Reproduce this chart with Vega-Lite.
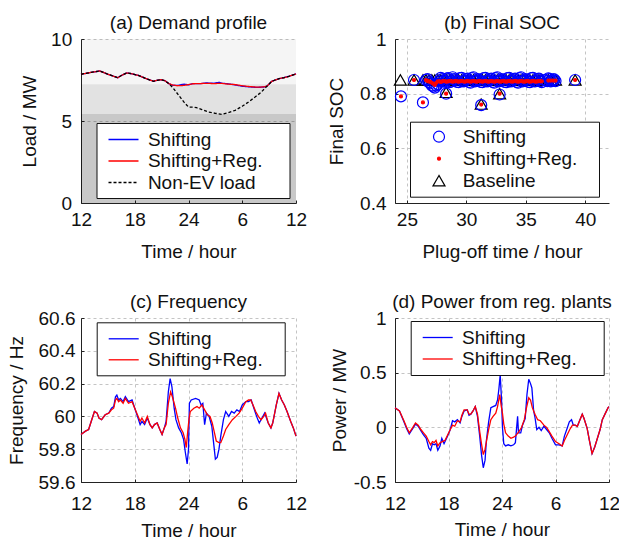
{
"$schema": "https://vega.github.io/schema/vega-lite/v6.json",
"padding": {"left": 6, "top": 14, "right": 0, "bottom": 0},
"background": "white",
"columns": 2,
"spacing": {"row": 115, "column": 99},
"bounds": "flush",
"resolve": {
 "scale": {"color": "independent", "fill": "independent", "stroke": "independent", "shape": "independent", "size": "independent", "strokeDash": "independent"},
 "legend": {"color": "independent", "fill": "independent", "stroke": "independent", "shape": "independent", "size": "independent", "strokeDash": "independent"}
},
"datasets": {
"bands": [{"lo": 7.24, "hi": 10, "zone": "upper"}, {"lo": 5.42, "hi": 7.24, "zone": "middle"}, {"lo": 0, "hi": 5.42, "zone": "lower"}],
"demand": [
{"h":12.0,"load":7.85,"s":"Shifting"},{"h":13.0,"load":7.95,"s":"Shifting"},{"h":14.1,"load":8.05,"s":"Shifting"},{"h":15.0,"load":7.85,"s":"Shifting"},{"h":16.1,"load":7.64,"s":"Shifting"},{"h":16.6,"load":7.8,"s":"Shifting"},{"h":17.1,"load":7.93,"s":"Shifting"},{"h":17.7,"load":7.88,"s":"Shifting"},{"h":18.4,"load":7.78,"s":"Shifting"},{"h":19.2,"load":7.6,"s":"Shifting"},{"h":20.1,"load":7.42,"s":"Shifting"},{"h":20.5,"load":7.48,"s":"Shifting"},{"h":20.95,"load":7.52,"s":"Shifting"},{"h":21.4,"load":7.45,"s":"Shifting"},{"h":21.8,"load":7.28,"s":"Shifting"},{"h":22.2,"load":7.18,"s":"Shifting"},{"h":22.8,"load":7.17,"s":"Shifting"},{"h":23.5,"load":7.25,"s":"Shifting"},{"h":24.0,"load":7.2,"s":"Shifting"},{"h":24.5,"load":7.28,"s":"Shifting"},{"h":25.3,"load":7.28,"s":"Shifting"},{"h":26.0,"load":7.32,"s":"Shifting"},{"h":26.8,"load":7.3,"s":"Shifting"},{"h":27.4,"load":7.36,"s":"Shifting"},{"h":27.8,"load":7.3,"s":"Shifting"},{"h":28.4,"load":7.27,"s":"Shifting"},{"h":29.2,"load":7.2,"s":"Shifting"},{"h":30.0,"load":7.12,"s":"Shifting"},{"h":30.8,"load":7.08,"s":"Shifting"},{"h":31.5,"load":7.05,"s":"Shifting"},{"h":32.1,"load":7.06,"s":"Shifting"},{"h":32.5,"load":7.08,"s":"Shifting"},{"h":32.75,"load":7.12,"s":"Shifting"},{"h":33.3,"load":7.42,"s":"Shifting"},{"h":34.1,"load":7.58,"s":"Shifting"},{"h":34.7,"load":7.65,"s":"Shifting"},{"h":35.2,"load":7.72,"s":"Shifting"},{"h":35.6,"load":7.8,"s":"Shifting"},{"h":36.0,"load":7.87,"s":"Shifting"},
{"h":12.0,"load":7.85,"s":"Shifting+Reg."},{"h":13.0,"load":7.95,"s":"Shifting+Reg."},{"h":14.1,"load":8.05,"s":"Shifting+Reg."},{"h":15.0,"load":7.85,"s":"Shifting+Reg."},{"h":16.1,"load":7.64,"s":"Shifting+Reg."},{"h":16.6,"load":7.8,"s":"Shifting+Reg."},{"h":17.1,"load":7.93,"s":"Shifting+Reg."},{"h":17.7,"load":7.88,"s":"Shifting+Reg."},{"h":18.4,"load":7.78,"s":"Shifting+Reg."},{"h":19.2,"load":7.6,"s":"Shifting+Reg."},{"h":20.1,"load":7.42,"s":"Shifting+Reg."},{"h":20.5,"load":7.48,"s":"Shifting+Reg."},{"h":20.95,"load":7.52,"s":"Shifting+Reg."},{"h":21.4,"load":7.45,"s":"Shifting+Reg."},{"h":21.8,"load":7.28,"s":"Shifting+Reg."},{"h":22.2,"load":7.2,"s":"Shifting+Reg."},{"h":22.8,"load":7.15,"s":"Shifting+Reg."},{"h":23.5,"load":7.17,"s":"Shifting+Reg."},{"h":24.0,"load":7.22,"s":"Shifting+Reg."},{"h":24.5,"load":7.27,"s":"Shifting+Reg."},{"h":25.3,"load":7.28,"s":"Shifting+Reg."},{"h":26.0,"load":7.3,"s":"Shifting+Reg."},{"h":26.8,"load":7.28,"s":"Shifting+Reg."},{"h":27.6,"load":7.3,"s":"Shifting+Reg."},{"h":28.4,"load":7.25,"s":"Shifting+Reg."},{"h":29.2,"load":7.22,"s":"Shifting+Reg."},{"h":30.0,"load":7.15,"s":"Shifting+Reg."},{"h":30.8,"load":7.1,"s":"Shifting+Reg."},{"h":31.5,"load":7.07,"s":"Shifting+Reg."},{"h":32.1,"load":7.07,"s":"Shifting+Reg."},{"h":32.5,"load":7.09,"s":"Shifting+Reg."},{"h":32.75,"load":7.12,"s":"Shifting+Reg."},{"h":33.3,"load":7.42,"s":"Shifting+Reg."},{"h":34.1,"load":7.58,"s":"Shifting+Reg."},{"h":34.7,"load":7.65,"s":"Shifting+Reg."},{"h":35.2,"load":7.72,"s":"Shifting+Reg."},{"h":35.6,"load":7.8,"s":"Shifting+Reg."},{"h":36.0,"load":7.87,"s":"Shifting+Reg."},
{"h":12.0,"load":7.85,"s":"Non-EV load"},{"h":13.0,"load":7.95,"s":"Non-EV load"},{"h":14.1,"load":8.05,"s":"Non-EV load"},{"h":15.0,"load":7.85,"s":"Non-EV load"},{"h":16.1,"load":7.64,"s":"Non-EV load"},{"h":16.6,"load":7.8,"s":"Non-EV load"},{"h":17.1,"load":7.93,"s":"Non-EV load"},{"h":17.7,"load":7.88,"s":"Non-EV load"},{"h":18.4,"load":7.78,"s":"Non-EV load"},{"h":19.2,"load":7.6,"s":"Non-EV load"},{"h":20.1,"load":7.42,"s":"Non-EV load"},{"h":20.5,"load":7.48,"s":"Non-EV load"},{"h":20.95,"load":7.52,"s":"Non-EV load"},{"h":21.4,"load":7.45,"s":"Non-EV load"},{"h":21.8,"load":7.28,"s":"Non-EV load"},{"h":22.3,"load":7.0,"s":"Non-EV load"},{"h":22.9,"load":6.57,"s":"Non-EV load"},{"h":23.5,"load":6.15,"s":"Non-EV load"},{"h":24.0,"load":5.85,"s":"Non-EV load"},{"h":24.5,"load":5.85,"s":"Non-EV load"},{"h":24.9,"load":5.81,"s":"Non-EV load"},{"h":25.5,"load":5.7,"s":"Non-EV load"},{"h":26.2,"load":5.55,"s":"Non-EV load"},{"h":27.0,"load":5.47,"s":"Non-EV load"},{"h":27.7,"load":5.41,"s":"Non-EV load"},{"h":28.4,"load":5.5,"s":"Non-EV load"},{"h":29.2,"load":5.65,"s":"Non-EV load"},{"h":30.0,"load":5.9,"s":"Non-EV load"},{"h":30.7,"load":6.16,"s":"Non-EV load"},{"h":31.4,"load":6.45,"s":"Non-EV load"},{"h":32.0,"load":6.7,"s":"Non-EV load"},{"h":32.75,"load":7.12,"s":"Non-EV load"},{"h":33.3,"load":7.42,"s":"Non-EV load"},{"h":34.1,"load":7.58,"s":"Non-EV load"},{"h":34.7,"load":7.65,"s":"Non-EV load"},{"h":35.2,"load":7.72,"s":"Non-EV load"},{"h":35.6,"load":7.8,"s":"Non-EV load"},{"h":36.0,"load":7.87,"s":"Non-EV load"}
],
"soc": [
{"t":24.45,"soc":0.85,"s":"Baseline"},{"t":25.6,"soc":0.85,"s":"Baseline"},{"t":26.35,"soc":0.85,"s":"Baseline"},{"t":28.3,"soc":0.805,"s":"Baseline"},{"t":31.25,"soc":0.762,"s":"Baseline"},{"t":32.8,"soc":0.8,"s":"Baseline"},{"t":39.15,"soc":0.85,"s":"Baseline"},
{"t":26.6,"soc":0.85,"s":"Baseline"},{"t":26.85,"soc":0.85,"s":"Baseline"},{"t":27.1,"soc":0.85,"s":"Baseline"},{"t":27.35,"soc":0.85,"s":"Baseline"},{"t":27.6,"soc":0.85,"s":"Baseline"},{"t":27.85,"soc":0.85,"s":"Baseline"},{"t":28.1,"soc":0.85,"s":"Baseline"},{"t":28.35,"soc":0.85,"s":"Baseline"},{"t":28.6,"soc":0.85,"s":"Baseline"},{"t":28.85,"soc":0.85,"s":"Baseline"},{"t":29.1,"soc":0.85,"s":"Baseline"},{"t":29.35,"soc":0.85,"s":"Baseline"},{"t":29.6,"soc":0.85,"s":"Baseline"},{"t":29.85,"soc":0.85,"s":"Baseline"},{"t":30.1,"soc":0.85,"s":"Baseline"},{"t":30.35,"soc":0.85,"s":"Baseline"},{"t":30.6,"soc":0.85,"s":"Baseline"},{"t":30.85,"soc":0.85,"s":"Baseline"},{"t":31.1,"soc":0.85,"s":"Baseline"},{"t":31.35,"soc":0.85,"s":"Baseline"},{"t":31.6,"soc":0.85,"s":"Baseline"},{"t":31.85,"soc":0.85,"s":"Baseline"},{"t":32.1,"soc":0.85,"s":"Baseline"},{"t":32.35,"soc":0.85,"s":"Baseline"},{"t":32.6,"soc":0.85,"s":"Baseline"},{"t":32.85,"soc":0.85,"s":"Baseline"},{"t":33.1,"soc":0.85,"s":"Baseline"},{"t":33.35,"soc":0.85,"s":"Baseline"},{"t":33.6,"soc":0.85,"s":"Baseline"},{"t":33.85,"soc":0.85,"s":"Baseline"},{"t":34.1,"soc":0.85,"s":"Baseline"},{"t":34.35,"soc":0.85,"s":"Baseline"},{"t":34.6,"soc":0.85,"s":"Baseline"},{"t":34.85,"soc":0.85,"s":"Baseline"},{"t":35.1,"soc":0.85,"s":"Baseline"},{"t":35.35,"soc":0.85,"s":"Baseline"},{"t":35.6,"soc":0.85,"s":"Baseline"},{"t":35.85,"soc":0.85,"s":"Baseline"},{"t":36.1,"soc":0.85,"s":"Baseline"},{"t":36.35,"soc":0.85,"s":"Baseline"},{"t":36.9,"soc":0.85,"s":"Baseline"},{"t":37.1,"soc":0.85,"s":"Baseline"},{"t":37.3,"soc":0.85,"s":"Baseline"},{"t":37.5,"soc":0.85,"s":"Baseline"},
{"t":24.5,"soc":0.79,"s":"Shifting"},{"t":25.6,"soc":0.85,"s":"Shifting"},{"t":26.35,"soc":0.768,"s":"Shifting"},{"t":28.3,"soc":0.8,"s":"Shifting"},{"t":31.25,"soc":0.758,"s":"Shifting"},{"t":32.8,"soc":0.797,"s":"Shifting"},{"t":39.15,"soc":0.85,"s":"Shifting"},
{"t":26.6,"soc":0.85,"s":"Shifting"},{"t":26.85,"soc":0.842,"s":"Shifting"},{"t":27.1,"soc":0.83,"s":"Shifting"},{"t":27.35,"soc":0.822,"s":"Shifting"},{"t":27.6,"soc":0.835,"s":"Shifting"},{"t":27.85,"soc":0.858,"s":"Shifting"},{"t":28.1,"soc":0.846,"s":"Shifting"},{"t":28.35,"soc":0.855,"s":"Shifting"},{"t":28.6,"soc":0.842,"s":"Shifting"},{"t":28.85,"soc":0.86,"s":"Shifting"},{"t":29.1,"soc":0.85,"s":"Shifting"},{"t":29.35,"soc":0.842,"s":"Shifting"},{"t":29.6,"soc":0.858,"s":"Shifting"},{"t":29.85,"soc":0.846,"s":"Shifting"},{"t":30.1,"soc":0.855,"s":"Shifting"},{"t":30.35,"soc":0.84,"s":"Shifting"},{"t":30.6,"soc":0.86,"s":"Shifting"},{"t":30.85,"soc":0.848,"s":"Shifting"},{"t":31.1,"soc":0.85,"s":"Shifting"},{"t":31.35,"soc":0.842,"s":"Shifting"},{"t":31.6,"soc":0.858,"s":"Shifting"},{"t":31.85,"soc":0.846,"s":"Shifting"},{"t":32.1,"soc":0.855,"s":"Shifting"},{"t":32.35,"soc":0.84,"s":"Shifting"},{"t":32.6,"soc":0.86,"s":"Shifting"},{"t":32.85,"soc":0.848,"s":"Shifting"},{"t":33.1,"soc":0.85,"s":"Shifting"},{"t":33.35,"soc":0.842,"s":"Shifting"},{"t":33.6,"soc":0.858,"s":"Shifting"},{"t":33.85,"soc":0.846,"s":"Shifting"},{"t":34.1,"soc":0.855,"s":"Shifting"},{"t":34.35,"soc":0.84,"s":"Shifting"},{"t":34.6,"soc":0.86,"s":"Shifting"},{"t":34.85,"soc":0.848,"s":"Shifting"},{"t":35.1,"soc":0.85,"s":"Shifting"},{"t":35.35,"soc":0.842,"s":"Shifting"},{"t":35.6,"soc":0.858,"s":"Shifting"},{"t":35.85,"soc":0.846,"s":"Shifting"},{"t":36.1,"soc":0.855,"s":"Shifting"},{"t":36.35,"soc":0.842,"s":"Shifting"},{"t":36.9,"soc":0.856,"s":"Shifting"},{"t":37.1,"soc":0.845,"s":"Shifting"},{"t":37.3,"soc":0.852,"s":"Shifting"},{"t":37.5,"soc":0.846,"s":"Shifting"},
{"t":26.725,"soc":0.853,"s":"Shifting"},{"t":26.975,"soc":0.838,"s":"Shifting"},{"t":27.225,"soc":0.826,"s":"Shifting"},{"t":27.475,"soc":0.83,"s":"Shifting"},{"t":27.725,"soc":0.845,"s":"Shifting"},{"t":27.975,"soc":0.853,"s":"Shifting"},{"t":28.225,"soc":0.843,"s":"Shifting"},{"t":28.475,"soc":0.857,"s":"Shifting"},{"t":28.725,"soc":0.845,"s":"Shifting"},{"t":28.975,"soc":0.853,"s":"Shifting"},{"t":29.225,"soc":0.843,"s":"Shifting"},{"t":29.475,"soc":0.857,"s":"Shifting"},{"t":29.725,"soc":0.845,"s":"Shifting"},{"t":29.975,"soc":0.853,"s":"Shifting"},{"t":30.225,"soc":0.843,"s":"Shifting"},{"t":30.475,"soc":0.857,"s":"Shifting"},{"t":30.725,"soc":0.845,"s":"Shifting"},{"t":30.975,"soc":0.853,"s":"Shifting"},{"t":31.225,"soc":0.843,"s":"Shifting"},{"t":31.475,"soc":0.857,"s":"Shifting"},{"t":31.725,"soc":0.845,"s":"Shifting"},{"t":31.975,"soc":0.853,"s":"Shifting"},{"t":32.225,"soc":0.843,"s":"Shifting"},{"t":32.475,"soc":0.857,"s":"Shifting"},{"t":32.725,"soc":0.845,"s":"Shifting"},{"t":32.975,"soc":0.853,"s":"Shifting"},{"t":33.225,"soc":0.843,"s":"Shifting"},{"t":33.475,"soc":0.857,"s":"Shifting"},{"t":33.725,"soc":0.845,"s":"Shifting"},{"t":33.975,"soc":0.853,"s":"Shifting"},{"t":34.225,"soc":0.843,"s":"Shifting"},{"t":34.475,"soc":0.857,"s":"Shifting"},{"t":34.725,"soc":0.845,"s":"Shifting"},{"t":34.975,"soc":0.853,"s":"Shifting"},{"t":35.225,"soc":0.843,"s":"Shifting"},{"t":35.475,"soc":0.857,"s":"Shifting"},{"t":35.725,"soc":0.845,"s":"Shifting"},{"t":35.975,"soc":0.853,"s":"Shifting"},{"t":36.225,"soc":0.846,"s":"Shifting"},{"t":36.6,"soc":0.85,"s":"Shifting"},{"t":36.8,"soc":0.846,"s":"Shifting"},{"t":37.0,"soc":0.853,"s":"Shifting"},{"t":37.2,"soc":0.847,"s":"Shifting"},{"t":37.4,"soc":0.852,"s":"Shifting"},
{"t":24.5,"soc":0.79,"s":"Shifting+Reg."},{"t":25.6,"soc":0.85,"s":"Shifting+Reg."},{"t":26.35,"soc":0.768,"s":"Shifting+Reg."},{"t":28.3,"soc":0.8,"s":"Shifting+Reg."},{"t":31.25,"soc":0.76,"s":"Shifting+Reg."},{"t":32.8,"soc":0.8,"s":"Shifting+Reg."},{"t":39.15,"soc":0.85,"s":"Shifting+Reg."},
{"t":26.6,"soc":0.85,"s":"Shifting+Reg."},{"t":26.85,"soc":0.845,"s":"Shifting+Reg."},{"t":27.1,"soc":0.84,"s":"Shifting+Reg."},{"t":27.35,"soc":0.832,"s":"Shifting+Reg."},{"t":27.6,"soc":0.845,"s":"Shifting+Reg."},{"t":27.85,"soc":0.843,"s":"Shifting+Reg."},{"t":28.1,"soc":0.846,"s":"Shifting+Reg."},{"t":28.35,"soc":0.844,"s":"Shifting+Reg."},{"t":28.6,"soc":0.846,"s":"Shifting+Reg."},{"t":28.85,"soc":0.844,"s":"Shifting+Reg."},{"t":29.1,"soc":0.846,"s":"Shifting+Reg."},{"t":29.35,"soc":0.844,"s":"Shifting+Reg."},{"t":29.6,"soc":0.846,"s":"Shifting+Reg."},{"t":29.85,"soc":0.844,"s":"Shifting+Reg."},{"t":30.1,"soc":0.846,"s":"Shifting+Reg."},{"t":30.35,"soc":0.844,"s":"Shifting+Reg."},{"t":30.6,"soc":0.846,"s":"Shifting+Reg."},{"t":30.85,"soc":0.844,"s":"Shifting+Reg."},{"t":31.1,"soc":0.846,"s":"Shifting+Reg."},{"t":31.35,"soc":0.844,"s":"Shifting+Reg."},{"t":31.6,"soc":0.846,"s":"Shifting+Reg."},{"t":31.85,"soc":0.844,"s":"Shifting+Reg."},{"t":32.1,"soc":0.846,"s":"Shifting+Reg."},{"t":32.35,"soc":0.844,"s":"Shifting+Reg."},{"t":32.6,"soc":0.846,"s":"Shifting+Reg."},{"t":32.85,"soc":0.844,"s":"Shifting+Reg."},{"t":33.1,"soc":0.846,"s":"Shifting+Reg."},{"t":33.35,"soc":0.844,"s":"Shifting+Reg."},{"t":33.6,"soc":0.846,"s":"Shifting+Reg."},{"t":33.85,"soc":0.844,"s":"Shifting+Reg."},{"t":34.1,"soc":0.846,"s":"Shifting+Reg."},{"t":34.35,"soc":0.844,"s":"Shifting+Reg."},{"t":34.6,"soc":0.846,"s":"Shifting+Reg."},{"t":34.85,"soc":0.844,"s":"Shifting+Reg."},{"t":35.1,"soc":0.846,"s":"Shifting+Reg."},{"t":35.35,"soc":0.844,"s":"Shifting+Reg."},{"t":35.6,"soc":0.846,"s":"Shifting+Reg."},{"t":35.85,"soc":0.844,"s":"Shifting+Reg."},{"t":36.1,"soc":0.846,"s":"Shifting+Reg."},{"t":36.35,"soc":0.845,"s":"Shifting+Reg."},{"t":36.9,"soc":0.848,"s":"Shifting+Reg."},{"t":37.1,"soc":0.848,"s":"Shifting+Reg."},{"t":37.3,"soc":0.848,"s":"Shifting+Reg."},{"t":37.5,"soc":0.848,"s":"Shifting+Reg."},
{"t":26.725,"soc":0.846,"s":"Shifting+Reg."},{"t":26.975,"soc":0.843,"s":"Shifting+Reg."},{"t":27.225,"soc":0.836,"s":"Shifting+Reg."},{"t":27.475,"soc":0.84,"s":"Shifting+Reg."},{"t":27.725,"soc":0.845,"s":"Shifting+Reg."},{"t":27.975,"soc":0.845,"s":"Shifting+Reg."},{"t":28.225,"soc":0.845,"s":"Shifting+Reg."},{"t":28.475,"soc":0.845,"s":"Shifting+Reg."},{"t":28.725,"soc":0.845,"s":"Shifting+Reg."},{"t":28.975,"soc":0.845,"s":"Shifting+Reg."},{"t":29.225,"soc":0.845,"s":"Shifting+Reg."},{"t":29.475,"soc":0.845,"s":"Shifting+Reg."},{"t":29.725,"soc":0.845,"s":"Shifting+Reg."},{"t":29.975,"soc":0.845,"s":"Shifting+Reg."},{"t":30.225,"soc":0.845,"s":"Shifting+Reg."},{"t":30.475,"soc":0.845,"s":"Shifting+Reg."},{"t":30.725,"soc":0.845,"s":"Shifting+Reg."},{"t":30.975,"soc":0.845,"s":"Shifting+Reg."},{"t":31.225,"soc":0.845,"s":"Shifting+Reg."},{"t":31.475,"soc":0.845,"s":"Shifting+Reg."},{"t":31.725,"soc":0.845,"s":"Shifting+Reg."},{"t":31.975,"soc":0.845,"s":"Shifting+Reg."},{"t":32.225,"soc":0.845,"s":"Shifting+Reg."},{"t":32.475,"soc":0.845,"s":"Shifting+Reg."},{"t":32.725,"soc":0.845,"s":"Shifting+Reg."},{"t":32.975,"soc":0.845,"s":"Shifting+Reg."},{"t":33.225,"soc":0.845,"s":"Shifting+Reg."},{"t":33.475,"soc":0.845,"s":"Shifting+Reg."},{"t":33.725,"soc":0.845,"s":"Shifting+Reg."},{"t":33.975,"soc":0.845,"s":"Shifting+Reg."},{"t":34.225,"soc":0.845,"s":"Shifting+Reg."},{"t":34.475,"soc":0.845,"s":"Shifting+Reg."},{"t":34.725,"soc":0.845,"s":"Shifting+Reg."},{"t":34.975,"soc":0.845,"s":"Shifting+Reg."},{"t":35.225,"soc":0.845,"s":"Shifting+Reg."},{"t":35.475,"soc":0.845,"s":"Shifting+Reg."},{"t":35.725,"soc":0.845,"s":"Shifting+Reg."},{"t":35.975,"soc":0.845,"s":"Shifting+Reg."},{"t":36.225,"soc":0.845,"s":"Shifting+Reg."}
],
"freq": [
{"h":12.0,"f":59.89,"s":"Shifting"},{"h":12.5,"f":59.91,"s":"Shifting"},{"h":12.85,"f":59.92,"s":"Shifting"},{"h":13.2,"f":59.98,"s":"Shifting"},{"h":13.5,"f":60.03,"s":"Shifting"},{"h":13.8,"f":60.02,"s":"Shifting"},{"h":14.0,"f":59.99,"s":"Shifting"},{"h":14.3,"f":59.98,"s":"Shifting"},{"h":14.7,"f":60.01,"s":"Shifting"},{"h":15.1,"f":60.02,"s":"Shifting"},{"h":15.4,"f":60.05,"s":"Shifting"},{"h":15.65,"f":60.06,"s":"Shifting"},{"h":15.85,"f":60.12,"s":"Shifting"},{"h":16.0,"f":60.13,"s":"Shifting"},{"h":16.2,"f":60.1,"s":"Shifting"},{"h":16.4,"f":60.11,"s":"Shifting"},{"h":16.7,"f":60.09,"s":"Shifting"},{"h":16.95,"f":60.12,"s":"Shifting"},{"h":17.3,"f":60.09,"s":"Shifting"},{"h":17.7,"f":60.1,"s":"Shifting"},{"h":18.0,"f":60.05,"s":"Shifting"},{"h":18.3,"f":60.0,"s":"Shifting"},{"h":18.6,"f":59.95,"s":"Shifting"},{"h":18.8,"f":59.97,"s":"Shifting"},{"h":19.1,"f":59.95,"s":"Shifting"},{"h":19.4,"f":59.99,"s":"Shifting"},{"h":19.7,"f":59.95,"s":"Shifting"},{"h":19.95,"f":59.93,"s":"Shifting"},{"h":20.2,"f":59.95,"s":"Shifting"},{"h":20.5,"f":59.96,"s":"Shifting"},{"h":20.8,"f":59.92,"s":"Shifting"},{"h":21.05,"f":59.89,"s":"Shifting"},{"h":21.3,"f":59.93,"s":"Shifting"},{"h":21.5,"f":59.97,"s":"Shifting"},{"h":21.75,"f":60.15,"s":"Shifting"},{"h":21.95,"f":60.23,"s":"Shifting"},{"h":22.15,"f":60.18,"s":"Shifting"},{"h":22.4,"f":60.05,"s":"Shifting"},{"h":22.6,"f":59.98,"s":"Shifting"},{"h":22.9,"f":59.93,"s":"Shifting"},{"h":23.2,"f":59.9,"s":"Shifting"},{"h":23.45,"f":59.86,"s":"Shifting"},{"h":23.65,"f":59.78,"s":"Shifting"},{"h":23.85,"f":59.71,"s":"Shifting"},{"h":24.0,"f":59.8,"s":"Shifting"},{"h":24.1,"f":60.08,"s":"Shifting"},{"h":24.3,"f":60.1,"s":"Shifting"},{"h":24.8,"f":60.11,"s":"Shifting"},{"h":25.2,"f":60.1,"s":"Shifting"},{"h":25.4,"f":60.07,"s":"Shifting"},{"h":25.6,"f":60.08,"s":"Shifting"},{"h":25.8,"f":59.95,"s":"Shifting"},{"h":26.0,"f":60.02,"s":"Shifting"},{"h":26.3,"f":60.0,"s":"Shifting"},{"h":26.6,"f":59.94,"s":"Shifting"},{"h":26.8,"f":59.84,"s":"Shifting"},{"h":27.0,"f":59.74,"s":"Shifting"},{"h":27.2,"f":59.75,"s":"Shifting"},{"h":27.4,"f":59.8,"s":"Shifting"},{"h":27.6,"f":59.88,"s":"Shifting"},{"h":27.9,"f":59.98,"s":"Shifting"},{"h":28.15,"f":60.03,"s":"Shifting"},{"h":28.5,"f":60.0,"s":"Shifting"},{"h":28.8,"f":60.03,"s":"Shifting"},{"h":29.1,"f":60.02,"s":"Shifting"},{"h":29.4,"f":60.04,"s":"Shifting"},{"h":29.7,"f":60.03,"s":"Shifting"},{"h":30.0,"f":60.07,"s":"Shifting"},{"h":30.4,"f":60.09,"s":"Shifting"},{"h":30.7,"f":60.09,"s":"Shifting"},{"h":31.0,"f":60.1,"s":"Shifting"},{"h":31.3,"f":60.05,"s":"Shifting"},{"h":31.6,"f":60.0,"s":"Shifting"},{"h":31.9,"f":59.96,"s":"Shifting"},{"h":32.2,"f":59.99,"s":"Shifting"},{"h":32.5,"f":60.02,"s":"Shifting"},{"h":32.9,"f":59.96,"s":"Shifting"},{"h":33.2,"f":59.93,"s":"Shifting"},{"h":33.4,"f":59.96,"s":"Shifting"},{"h":33.55,"f":60.0,"s":"Shifting"},{"h":33.8,"f":60.07,"s":"Shifting"},{"h":34.1,"f":60.14,"s":"Shifting"},{"h":34.4,"f":60.1,"s":"Shifting"},{"h":34.7,"f":60.07,"s":"Shifting"},{"h":35.0,"f":60.03,"s":"Shifting"},{"h":35.4,"f":59.97,"s":"Shifting"},{"h":35.7,"f":59.93,"s":"Shifting"},{"h":36.0,"f":59.88,"s":"Shifting"},
{"h":12.0,"f":59.89,"s":"Shifting+Reg."},{"h":12.5,"f":59.91,"s":"Shifting+Reg."},{"h":12.85,"f":59.92,"s":"Shifting+Reg."},{"h":13.2,"f":59.98,"s":"Shifting+Reg."},{"h":13.5,"f":60.03,"s":"Shifting+Reg."},{"h":13.8,"f":60.02,"s":"Shifting+Reg."},{"h":14.0,"f":59.99,"s":"Shifting+Reg."},{"h":14.3,"f":59.98,"s":"Shifting+Reg."},{"h":14.7,"f":60.01,"s":"Shifting+Reg."},{"h":15.1,"f":60.02,"s":"Shifting+Reg."},{"h":15.4,"f":60.04,"s":"Shifting+Reg."},{"h":15.65,"f":60.05,"s":"Shifting+Reg."},{"h":15.85,"f":60.1,"s":"Shifting+Reg."},{"h":16.0,"f":60.11,"s":"Shifting+Reg."},{"h":16.2,"f":60.09,"s":"Shifting+Reg."},{"h":16.4,"f":60.1,"s":"Shifting+Reg."},{"h":16.7,"f":60.08,"s":"Shifting+Reg."},{"h":16.95,"f":60.11,"s":"Shifting+Reg."},{"h":17.3,"f":60.08,"s":"Shifting+Reg."},{"h":17.7,"f":60.09,"s":"Shifting+Reg."},{"h":18.0,"f":60.05,"s":"Shifting+Reg."},{"h":18.3,"f":60.01,"s":"Shifting+Reg."},{"h":18.6,"f":59.97,"s":"Shifting+Reg."},{"h":18.8,"f":59.99,"s":"Shifting+Reg."},{"h":19.1,"f":59.96,"s":"Shifting+Reg."},{"h":19.4,"f":60.0,"s":"Shifting+Reg."},{"h":19.7,"f":59.95,"s":"Shifting+Reg."},{"h":19.95,"f":59.93,"s":"Shifting+Reg."},{"h":20.2,"f":59.95,"s":"Shifting+Reg."},{"h":20.5,"f":59.96,"s":"Shifting+Reg."},{"h":20.8,"f":59.92,"s":"Shifting+Reg."},{"h":21.05,"f":59.89,"s":"Shifting+Reg."},{"h":21.3,"f":59.93,"s":"Shifting+Reg."},{"h":21.5,"f":59.95,"s":"Shifting+Reg."},{"h":21.75,"f":60.08,"s":"Shifting+Reg."},{"h":22.0,"f":60.15,"s":"Shifting+Reg."},{"h":22.2,"f":60.12,"s":"Shifting+Reg."},{"h":22.55,"f":60.05,"s":"Shifting+Reg."},{"h":22.8,"f":59.99,"s":"Shifting+Reg."},{"h":23.1,"f":59.93,"s":"Shifting+Reg."},{"h":23.4,"f":59.9,"s":"Shifting+Reg."},{"h":23.6,"f":59.86,"s":"Shifting+Reg."},{"h":23.75,"f":59.81,"s":"Shifting+Reg."},{"h":23.9,"f":59.9,"s":"Shifting+Reg."},{"h":24.05,"f":59.98,"s":"Shifting+Reg."},{"h":24.2,"f":60.03,"s":"Shifting+Reg."},{"h":24.6,"f":60.05,"s":"Shifting+Reg."},{"h":24.95,"f":60.06,"s":"Shifting+Reg."},{"h":25.2,"f":60.05,"s":"Shifting+Reg."},{"h":25.5,"f":60.07,"s":"Shifting+Reg."},{"h":25.8,"f":60.04,"s":"Shifting+Reg."},{"h":26.1,"f":60.01,"s":"Shifting+Reg."},{"h":26.4,"f":60.0,"s":"Shifting+Reg."},{"h":26.65,"f":59.96,"s":"Shifting+Reg."},{"h":26.9,"f":59.9,"s":"Shifting+Reg."},{"h":27.1,"f":59.85,"s":"Shifting+Reg."},{"h":27.4,"f":59.84,"s":"Shifting+Reg."},{"h":27.6,"f":59.84,"s":"Shifting+Reg."},{"h":27.9,"f":59.88,"s":"Shifting+Reg."},{"h":28.15,"f":59.92,"s":"Shifting+Reg."},{"h":28.5,"f":59.95,"s":"Shifting+Reg."},{"h":28.9,"f":59.98,"s":"Shifting+Reg."},{"h":29.3,"f":60.0,"s":"Shifting+Reg."},{"h":29.65,"f":60.02,"s":"Shifting+Reg."},{"h":30.0,"f":60.05,"s":"Shifting+Reg."},{"h":30.4,"f":60.09,"s":"Shifting+Reg."},{"h":30.7,"f":60.1,"s":"Shifting+Reg."},{"h":30.95,"f":60.1,"s":"Shifting+Reg."},{"h":31.2,"f":60.07,"s":"Shifting+Reg."},{"h":31.5,"f":60.03,"s":"Shifting+Reg."},{"h":31.8,"f":60.0,"s":"Shifting+Reg."},{"h":32.1,"f":59.98,"s":"Shifting+Reg."},{"h":32.4,"f":60.0,"s":"Shifting+Reg."},{"h":32.6,"f":60.02,"s":"Shifting+Reg."},{"h":32.9,"f":59.96,"s":"Shifting+Reg."},{"h":33.2,"f":59.93,"s":"Shifting+Reg."},{"h":33.4,"f":59.96,"s":"Shifting+Reg."},{"h":33.55,"f":60.0,"s":"Shifting+Reg."},{"h":33.8,"f":60.07,"s":"Shifting+Reg."},{"h":34.1,"f":60.14,"s":"Shifting+Reg."},{"h":34.4,"f":60.1,"s":"Shifting+Reg."},{"h":34.7,"f":60.07,"s":"Shifting+Reg."},{"h":35.0,"f":60.03,"s":"Shifting+Reg."},{"h":35.4,"f":59.97,"s":"Shifting+Reg."},{"h":35.7,"f":59.93,"s":"Shifting+Reg."},{"h":36.0,"f":59.88,"s":"Shifting+Reg."}
],
"power": [
{"h":12.0,"p":0.18,"s":"Shifting"},{"h":12.5,"p":0.15,"s":"Shifting"},{"h":13.0,"p":0.05,"s":"Shifting"},{"h":13.3,"p":-0.01,"s":"Shifting"},{"h":13.6,"p":-0.06,"s":"Shifting"},{"h":14.0,"p":-0.01,"s":"Shifting"},{"h":14.3,"p":0.03,"s":"Shifting"},{"h":14.6,"p":0.01,"s":"Shifting"},{"h":14.9,"p":-0.03,"s":"Shifting"},{"h":15.2,"p":-0.07,"s":"Shifting"},{"h":15.5,"p":-0.1,"s":"Shifting"},{"h":15.8,"p":-0.19,"s":"Shifting"},{"h":16.0,"p":-0.21,"s":"Shifting"},{"h":16.2,"p":-0.15,"s":"Shifting"},{"h":16.4,"p":-0.16,"s":"Shifting"},{"h":16.6,"p":-0.15,"s":"Shifting"},{"h":16.8,"p":-0.21,"s":"Shifting"},{"h":17.05,"p":-0.17,"s":"Shifting"},{"h":17.25,"p":-0.1,"s":"Shifting"},{"h":17.5,"p":-0.15,"s":"Shifting"},{"h":17.9,"p":-0.08,"s":"Shifting"},{"h":18.2,"p":-0.02,"s":"Shifting"},{"h":18.45,"p":0.06,"s":"Shifting"},{"h":18.7,"p":0.05,"s":"Shifting"},{"h":19.0,"p":0.07,"s":"Shifting"},{"h":19.3,"p":0.04,"s":"Shifting"},{"h":19.5,"p":0.1,"s":"Shifting"},{"h":19.75,"p":0.15,"s":"Shifting"},{"h":20.1,"p":0.16,"s":"Shifting"},{"h":20.3,"p":0.11,"s":"Shifting"},{"h":20.5,"p":0.12,"s":"Shifting"},{"h":20.75,"p":0.15,"s":"Shifting"},{"h":21.0,"p":0.19,"s":"Shifting"},{"h":21.25,"p":0.1,"s":"Shifting"},{"h":21.5,"p":-0.08,"s":"Shifting"},{"h":21.7,"p":-0.25,"s":"Shifting"},{"h":21.9,"p":-0.37,"s":"Shifting"},{"h":22.1,"p":-0.3,"s":"Shifting"},{"h":22.25,"p":-0.12,"s":"Shifting"},{"h":22.5,"p":0.05,"s":"Shifting"},{"h":22.75,"p":0.18,"s":"Shifting"},{"h":23.0,"p":0.19,"s":"Shifting"},{"h":23.3,"p":0.2,"s":"Shifting"},{"h":23.5,"p":0.25,"s":"Shifting"},{"h":23.65,"p":0.35,"s":"Shifting"},{"h":23.8,"p":0.48,"s":"Shifting"},{"h":23.95,"p":0.25,"s":"Shifting"},{"h":24.05,"p":0.0,"s":"Shifting"},{"h":24.2,"p":-0.15,"s":"Shifting"},{"h":24.4,"p":-0.17,"s":"Shifting"},{"h":24.7,"p":-0.16,"s":"Shifting"},{"h":25.0,"p":-0.17,"s":"Shifting"},{"h":25.3,"p":-0.16,"s":"Shifting"},{"h":25.5,"p":-0.14,"s":"Shifting"},{"h":25.75,"p":0.1,"s":"Shifting"},{"h":25.85,"p":-0.05,"s":"Shifting"},{"h":26.1,"p":-0.05,"s":"Shifting"},{"h":26.3,"p":0.02,"s":"Shifting"},{"h":26.6,"p":0.08,"s":"Shifting"},{"h":26.8,"p":0.3,"s":"Shifting"},{"h":27.0,"p":0.44,"s":"Shifting"},{"h":27.2,"p":0.4,"s":"Shifting"},{"h":27.35,"p":0.36,"s":"Shifting"},{"h":27.55,"p":0.15,"s":"Shifting"},{"h":27.7,"p":0.09,"s":"Shifting"},{"h":27.9,"p":-0.02,"s":"Shifting"},{"h":28.15,"p":0.0,"s":"Shifting"},{"h":28.4,"p":-0.03,"s":"Shifting"},{"h":28.7,"p":0.01,"s":"Shifting"},{"h":29.0,"p":-0.02,"s":"Shifting"},{"h":29.3,"p":-0.05,"s":"Shifting"},{"h":29.6,"p":-0.1,"s":"Shifting"},{"h":30.0,"p":-0.16,"s":"Shifting"},{"h":30.4,"p":-0.16,"s":"Shifting"},{"h":30.75,"p":-0.17,"s":"Shifting"},{"h":31.0,"p":-0.08,"s":"Shifting"},{"h":31.3,"p":-0.01,"s":"Shifting"},{"h":31.55,"p":0.05,"s":"Shifting"},{"h":31.8,"p":0.07,"s":"Shifting"},{"h":32.0,"p":0.02,"s":"Shifting"},{"h":32.2,"p":0.02,"s":"Shifting"},{"h":32.45,"p":0.01,"s":"Shifting"},{"h":32.7,"p":0.06,"s":"Shifting"},{"h":33.0,"p":0.12,"s":"Shifting"},{"h":33.2,"p":0.08,"s":"Shifting"},{"h":33.55,"p":-0.01,"s":"Shifting"},{"h":33.8,"p":-0.12,"s":"Shifting"},{"h":34.1,"p":-0.24,"s":"Shifting"},{"h":34.4,"p":-0.18,"s":"Shifting"},{"h":34.7,"p":-0.1,"s":"Shifting"},{"h":35.0,"p":-0.02,"s":"Shifting"},{"h":35.25,"p":0.07,"s":"Shifting"},{"h":35.6,"p":0.13,"s":"Shifting"},{"h":35.9,"p":0.18,"s":"Shifting"},{"h":36.0,"p":0.19,"s":"Shifting"},
{"h":12.0,"p":0.18,"s":"Shifting+Reg."},{"h":12.5,"p":0.15,"s":"Shifting+Reg."},{"h":13.0,"p":0.06,"s":"Shifting+Reg."},{"h":13.3,"p":0.0,"s":"Shifting+Reg."},{"h":13.6,"p":-0.05,"s":"Shifting+Reg."},{"h":14.0,"p":0.0,"s":"Shifting+Reg."},{"h":14.3,"p":0.04,"s":"Shifting+Reg."},{"h":14.6,"p":0.02,"s":"Shifting+Reg."},{"h":14.9,"p":-0.02,"s":"Shifting+Reg."},{"h":15.2,"p":-0.05,"s":"Shifting+Reg."},{"h":15.5,"p":-0.08,"s":"Shifting+Reg."},{"h":15.8,"p":-0.13,"s":"Shifting+Reg."},{"h":16.0,"p":-0.16,"s":"Shifting+Reg."},{"h":16.2,"p":-0.13,"s":"Shifting+Reg."},{"h":16.4,"p":-0.14,"s":"Shifting+Reg."},{"h":16.6,"p":-0.12,"s":"Shifting+Reg."},{"h":16.8,"p":-0.17,"s":"Shifting+Reg."},{"h":17.05,"p":-0.14,"s":"Shifting+Reg."},{"h":17.3,"p":-0.13,"s":"Shifting+Reg."},{"h":17.6,"p":-0.12,"s":"Shifting+Reg."},{"h":17.9,"p":-0.07,"s":"Shifting+Reg."},{"h":18.2,"p":-0.02,"s":"Shifting+Reg."},{"h":18.45,"p":0.02,"s":"Shifting+Reg."},{"h":18.7,"p":0.01,"s":"Shifting+Reg."},{"h":19.0,"p":0.06,"s":"Shifting+Reg."},{"h":19.3,"p":0.05,"s":"Shifting+Reg."},{"h":19.5,"p":0.11,"s":"Shifting+Reg."},{"h":19.75,"p":0.16,"s":"Shifting+Reg."},{"h":20.1,"p":0.16,"s":"Shifting+Reg."},{"h":20.3,"p":0.12,"s":"Shifting+Reg."},{"h":20.5,"p":0.12,"s":"Shifting+Reg."},{"h":20.75,"p":0.15,"s":"Shifting+Reg."},{"h":21.0,"p":0.19,"s":"Shifting+Reg."},{"h":21.25,"p":0.12,"s":"Shifting+Reg."},{"h":21.5,"p":-0.04,"s":"Shifting+Reg."},{"h":21.7,"p":-0.15,"s":"Shifting+Reg."},{"h":21.9,"p":-0.25,"s":"Shifting+Reg."},{"h":22.1,"p":-0.2,"s":"Shifting+Reg."},{"h":22.25,"p":-0.13,"s":"Shifting+Reg."},{"h":22.5,"p":-0.02,"s":"Shifting+Reg."},{"h":22.75,"p":0.07,"s":"Shifting+Reg."},{"h":23.0,"p":0.1,"s":"Shifting+Reg."},{"h":23.3,"p":0.13,"s":"Shifting+Reg."},{"h":23.5,"p":0.19,"s":"Shifting+Reg."},{"h":23.75,"p":0.3,"s":"Shifting+Reg."},{"h":23.9,"p":0.2,"s":"Shifting+Reg."},{"h":24.05,"p":0.13,"s":"Shifting+Reg."},{"h":24.2,"p":0.03,"s":"Shifting+Reg."},{"h":24.4,"p":-0.05,"s":"Shifting+Reg."},{"h":24.7,"p":-0.08,"s":"Shifting+Reg."},{"h":25.0,"p":-0.1,"s":"Shifting+Reg."},{"h":25.3,"p":-0.09,"s":"Shifting+Reg."},{"h":25.5,"p":-0.08,"s":"Shifting+Reg."},{"h":25.7,"p":-0.06,"s":"Shifting+Reg."},{"h":25.9,"p":-0.04,"s":"Shifting+Reg."},{"h":26.2,"p":0.0,"s":"Shifting+Reg."},{"h":26.5,"p":0.07,"s":"Shifting+Reg."},{"h":26.75,"p":0.18,"s":"Shifting+Reg."},{"h":27.0,"p":0.27,"s":"Shifting+Reg."},{"h":27.2,"p":0.25,"s":"Shifting+Reg."},{"h":27.4,"p":0.18,"s":"Shifting+Reg."},{"h":27.7,"p":0.12,"s":"Shifting+Reg."},{"h":28.0,"p":0.07,"s":"Shifting+Reg."},{"h":28.3,"p":0.06,"s":"Shifting+Reg."},{"h":28.7,"p":0.02,"s":"Shifting+Reg."},{"h":29.0,"p":0.0,"s":"Shifting+Reg."},{"h":29.3,"p":-0.04,"s":"Shifting+Reg."},{"h":29.6,"p":-0.08,"s":"Shifting+Reg."},{"h":30.0,"p":-0.13,"s":"Shifting+Reg."},{"h":30.4,"p":-0.15,"s":"Shifting+Reg."},{"h":30.75,"p":-0.17,"s":"Shifting+Reg."},{"h":31.0,"p":-0.12,"s":"Shifting+Reg."},{"h":31.3,"p":-0.07,"s":"Shifting+Reg."},{"h":31.6,"p":-0.02,"s":"Shifting+Reg."},{"h":31.9,"p":0.02,"s":"Shifting+Reg."},{"h":32.2,"p":0.02,"s":"Shifting+Reg."},{"h":32.45,"p":0.01,"s":"Shifting+Reg."},{"h":32.7,"p":0.06,"s":"Shifting+Reg."},{"h":33.0,"p":0.12,"s":"Shifting+Reg."},{"h":33.2,"p":0.08,"s":"Shifting+Reg."},{"h":33.55,"p":-0.01,"s":"Shifting+Reg."},{"h":33.8,"p":-0.12,"s":"Shifting+Reg."},{"h":34.1,"p":-0.24,"s":"Shifting+Reg."},{"h":34.4,"p":-0.18,"s":"Shifting+Reg."},{"h":34.7,"p":-0.1,"s":"Shifting+Reg."},{"h":35.0,"p":-0.02,"s":"Shifting+Reg."},{"h":35.25,"p":0.07,"s":"Shifting+Reg."},{"h":35.6,"p":0.13,"s":"Shifting+Reg."},{"h":35.9,"p":0.18,"s":"Shifting+Reg."},{"h":36.0,"p":0.19,"s":"Shifting+Reg."}
]
},
"concat": [
{
"width": 215, "height": 164,
"title": {"text": "(a) Demand profile"},
"layer": [
{"data": {"name": "bands"}, "mark": {"type": "rect"},
 "encoding": {
  "x": {"datum": 12, "type": "quantitative"}, "x2": {"datum": 36},
  "y": {"field": "lo", "type": "quantitative", "title": "Load / MW", "scale": {"domain": [0, 10], "nice": false, "zero": false}, "axis": {"values": [0, 5, 10], "titleX": -45.7, "titleBaseline": "alphabetic", "labelPadding": 12.3}},
  "y2": {"field": "hi"},
  "fill": {"field": "zone", "type": "nominal", "scale": {"domain": ["upper", "middle", "lower"], "range": ["rgba(0,0,0,0.04)", "rgba(0,0,0,0.115)", "rgba(0,0,0,0.215)"]}, "legend": null}
 }},
{"data": {"name": "demand"}, "mark": {"type": "line", "strokeWidth": 1.3},
 "encoding": {
  "x": {"field": "h", "type": "quantitative", "title": "Time / hour", "scale": {"domain": [12, 36], "nice": false, "zero": false}, "axis": {"values": [12, 18, 24, 30, 36], "labelExpr": "datum.value > 24 ? '' + (datum.value - 24) : '' + datum.value", "titleY": 54.6, "titleBaseline": "alphabetic", "labelPadding": 10.9}},
  "y": {"field": "load", "type": "quantitative", "title": "Load / MW", "scale": {"domain": [0, 10], "nice": false, "zero": false}, "axis": {"values": [0, 5, 10], "titleX": -45.7, "titleBaseline": "alphabetic", "labelPadding": 12.3}},
  "color": {"field": "s", "type": "nominal", "scale": {"domain": ["Shifting", "Shifting+Reg.", "Non-EV load"], "range": ["#0000ff", "#ff0000", "#000000"]},
   "legend": {"orient": "none", "legendX": 15.5, "legendY": 84, "title": null, "padding": 5.5, "strokeColor": "#111", "fillColor": "white", "symbolType": "M-1.5,0H1.5", "symbolSize": 400, "symbolStrokeWidth": 1.3, "symbolOffset": 10.5, "labelOffset": 13.4, "rowPadding": 0.5, "labelFontSize": 19, "labelExpr": "datum.label + '\u00a0\u00a0\u00a0\u00a0\u200b'", "zindex": 2}},
  "strokeDash": {"field": "s", "type": "nominal", "scale": {"domain": ["Shifting", "Shifting+Reg.", "Non-EV load"], "range": [[1, 0], [1, 0], [3, 2]]},
   "legend": {"orient": "none", "legendX": 15.5, "legendY": 84, "title": null, "padding": 5.5, "strokeColor": "#111", "fillColor": "white", "symbolType": "M-1.5,0H1.5", "symbolSize": 400, "symbolStrokeWidth": 1.3, "symbolOffset": 10.5, "labelOffset": 13.4, "rowPadding": 0.5, "labelFontSize": 19, "labelExpr": "datum.label + '\u00a0\u00a0\u00a0\u00a0\u200b'", "zindex": 2}}
 }}
]
},
{
"width": 214, "height": 164,
"title": {"text": "(b) Final SOC"},
"data": {"name": "soc"},
"mark": {"type": "point", "filled": true, "strokeWidth": 1.2, "opacity": 1},
"encoding": {
 "x": {"field": "t", "type": "quantitative", "title": "Plug-off time / hour", "scale": {"domain": [24, 42], "nice": false, "zero": false}, "axis": {"values": [25, 30, 35, 40], "titleY": 54.6, "titleBaseline": "alphabetic", "labelPadding": 10.9}},
 "y": {"field": "soc", "type": "quantitative", "title": "Final SOC", "scale": {"domain": [0.4, 1], "nice": false, "zero": false}, "axis": {"values": [0.4, 0.6, 0.8, 1], "format": ".1~f", "titleX": -53, "titleBaseline": "alphabetic", "labelPadding": 12}},
 "shape": {"field": "s", "type": "nominal", "scale": {"domain": ["Shifting", "Shifting+Reg.", "Baseline"], "range": ["circle", "circle", "triangle-up"]},
  "legend": {"orient": "none", "legendX": 15, "legendY": 82.7, "title": null, "padding": 5.5, "strokeColor": "#111", "fillColor": "white", "symbolFillColor": "transparent", "symbolStrokeWidth": 1.2, "symbolOffset": 14, "labelOffset": 14.2, "rowPadding": 2, "labelFontSize": 19, "labelExpr": "datum.label + '\u00a0\u00a0\u00a0\u200b'", "zindex": 2}},
 "size": {"field": "s", "type": "nominal", "scale": {"type": "ordinal", "domain": ["Shifting", "Shifting+Reg.", "Baseline"], "range": [121, 9, 144]},
  "legend": {"orient": "none", "legendX": 15, "legendY": 82.7, "title": null, "padding": 5.5, "strokeColor": "#111", "fillColor": "white", "symbolFillColor": "transparent", "symbolStrokeWidth": 1.2, "symbolOffset": 14, "labelOffset": 14.2, "rowPadding": 2, "labelFontSize": 19, "labelExpr": "datum.label + '\u00a0\u00a0\u00a0\u200b'", "zindex": 2}},
 "fill": {"field": "s", "type": "nominal", "scale": {"domain": ["Shifting", "Shifting+Reg.", "Baseline"], "range": ["transparent", "#ff0000", "transparent"]},
  "legend": {"orient": "none", "legendX": 15, "legendY": 82.7, "title": null, "padding": 5.5, "strokeColor": "#111", "fillColor": "white", "symbolFillColor": "transparent", "symbolStrokeWidth": 1.2, "symbolOffset": 14, "labelOffset": 14.2, "rowPadding": 2, "labelFontSize": 19, "labelExpr": "datum.label + '\u00a0\u00a0\u00a0\u200b'", "zindex": 2}},
 "stroke": {"field": "s", "type": "nominal", "scale": {"domain": ["Shifting", "Shifting+Reg.", "Baseline"], "range": ["#0000ff", "#ff0000", "#000000"]},
  "legend": {"orient": "none", "legendX": 15, "legendY": 82.7, "title": null, "padding": 5.5, "strokeColor": "#111", "fillColor": "white", "symbolFillColor": "transparent", "symbolStrokeWidth": 1.2, "symbolOffset": 14, "labelOffset": 14.2, "rowPadding": 2, "labelFontSize": 19, "labelExpr": "datum.label + '\u00a0\u00a0\u00a0\u200b'", "zindex": 2}}
}
},
{
"width": 215, "height": 164,
"title": {"text": "(c) Frequency"},
"data": {"name": "freq"},
"mark": {"type": "line", "strokeWidth": 1.3},
"encoding": {
 "x": {"field": "h", "type": "quantitative", "title": "Time / hour", "scale": {"domain": [12, 36], "nice": false, "zero": false}, "axis": {"values": [12, 18, 24, 30, 36], "labelExpr": "datum.value > 24 ? '' + (datum.value - 24) : '' + datum.value", "titleY": 54, "titleBaseline": "alphabetic", "labelPadding": 15}},
 "y": {"field": "f", "type": "quantitative", "title": "Frequency / Hz", "scale": {"domain": [59.6, 60.6], "nice": false, "zero": false}, "axis": {"values": [59.6, 59.8, 60, 60.2, 60.4, 60.6], "format": ".1~f", "titleX": -59, "titleBaseline": "alphabetic", "labelPadding": 9}},
 "color": {"field": "s", "type": "nominal", "scale": {"domain": ["Shifting", "Shifting+Reg."], "range": ["#0000ff", "#ff0000"]},
  "legend": {"orient": "none", "legendX": 15.7, "legendY": 4.3, "title": null, "padding": 5.5, "strokeColor": "#111", "fillColor": "white", "symbolType": "M-1.5,0H1.5", "symbolSize": 400, "symbolStrokeWidth": 1.3, "symbolOffset": 10.5, "labelOffset": 13.4, "rowPadding": 0, "labelFontSize": 19, "labelExpr": "datum.label + '\u00a0\u00a0\u00a0\u200b'", "zindex": 2}}
}
},
{
"width": 214, "height": 164,
"title": {"text": "(d) Power from reg. plants"},
"data": {"name": "power"},
"mark": {"type": "line", "strokeWidth": 1.3},
"encoding": {
 "x": {"field": "h", "type": "quantitative", "title": "Time / hour", "scale": {"domain": [12, 36], "nice": false, "zero": false}, "axis": {"values": [12, 18, 24, 30, 36], "labelExpr": "datum.value > 24 ? '' + (datum.value - 24) : '' + datum.value", "titleY": 53, "titleBaseline": "alphabetic", "labelPadding": 15}},
 "y": {"field": "p", "type": "quantitative", "title": "Power / MW", "scale": {"domain": [-0.5, 1], "nice": false, "zero": false}, "axis": {"values": [-0.5, 0, 0.5, 1], "labelExpr": "replace(format(datum.value, '.1~f'), '\u2212', '-')", "titleX": -49.7, "titleBaseline": "alphabetic", "labelPadding": 12}},
 "color": {"field": "s", "type": "nominal", "scale": {"domain": ["Shifting", "Shifting+Reg."], "range": ["#0000ff", "#ff0000"]},
  "legend": {"orient": "none", "legendX": 15.7, "legendY": 3, "title": null, "padding": 5.5, "strokeColor": "#111", "fillColor": "white", "symbolType": "M-1.5,0H1.5", "symbolSize": 400, "symbolStrokeWidth": 1.3, "symbolOffset": 10.5, "labelOffset": 13.4, "rowPadding": 0.5, "labelFontSize": 19, "labelExpr": "datum.label + '\u00a0\u00a0\u00a0\u00a0\u200b'", "zindex": 2}}
}
}
],
"config": {
 "font": "Liberation Sans",
 "view": {"stroke": null},
 "axis": {"labelFont": "Liberation Sans", "labelFontSize": 19, "labelColor": "#111", "titleFont": "Liberation Sans", "titleFontSize": 19, "titleFontWeight": "normal", "titleColor": "#111", "domainColor": "#222", "domainWidth": 1, "tickColor": "#222", "tickSize": -3, "tickWidth": 1, "gridColor": "#c4c4c4", "gridDash": [3, 3], "gridWidth": 1, "labelFlush": false, "labelOverlap": false, "labelBound": false},
 "legend": {"labelFont": "Liberation Sans", "labelColor": "#111", "strokeWidth": 1},
 "title": {"font": "Liberation Sans", "fontSize": 19, "fontWeight": "normal", "color": "#111", "offset": -3, "baseline": "alphabetic", "frame": "group"}
}
}
